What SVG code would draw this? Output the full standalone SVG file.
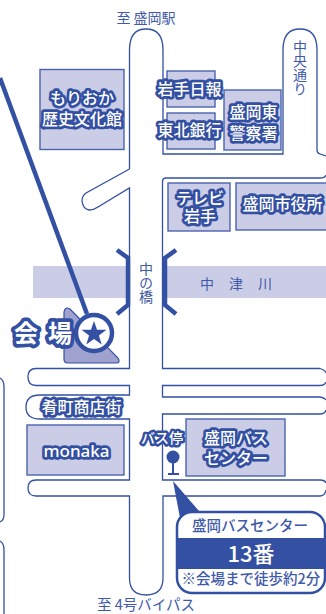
<svg xmlns="http://www.w3.org/2000/svg" width="326" height="614" viewBox="0 0 326 614">
<style>
text{font-family:"Noto Sans CJK JP","Noto Sans",sans-serif;text-anchor:middle}
.road{fill:none;stroke:#3350a3;stroke-width:1.3}
.bld{fill:#cbcde6;stroke:#4a63ad;stroke-width:1.4}
.lbl{fill:#fff;stroke:#3350a3;stroke-width:5.5;stroke-linejoin:round;paint-order:stroke;font-size:16px;font-weight:500}
.plain{fill:#3f5aa8;font-size:14px}
.vert{writing-mode:vertical-rl;text-orientation:upright}
.river{fill:#cbcde6}
</style>
<g id="river"><rect class="river" x="33" y="266" width="95" height="32"/><rect class="river" x="165" y="266" width="161" height="32"/></g>
<g id="connectors">
<path class="road" d="M129.500 169V50Q129.500 29 146 29Q163 29 163 50V154H283V50Q283 29 300 29Q317 29 317 50V150Q317 153 320 154L326 156"/>
<path class="road" d="M129.500 169L86 193Q82 196 82 201Q83 209 89 210Q94 210 98 207L129.500 188V368.500H36Q28 368.500 28 377Q28 385.500 36 385.500H129.500V395H40Q26 395 26 407Q26 419 40 419H129.500V480H36Q28 480 28 488Q28 496 36 496H129.500V578Q129.500 595 146 595Q163 595 163 578V496H320Q325 496 326 490"/>
<path class="road" d="M326 175Q325 178 320 178H166Q162.500 178 162.500 182V368.500H320Q325 370 326 373M326 382Q325 385.500 320 385.500H162.500V397H320Q325 398 326 400M326 410Q325 414 320 414H162.500V480H320Q325 480 326 483"/>
<path class="road" stroke-width="1.600" d="M0 378Q4 380 4 387V515Q4 520 0 522M0 541Q4 543 4 550V614"/>
<path d="M0 78L87 314" stroke="#3350a3" stroke-width="4.500" fill="none"/>
</g>
<g id="bridge" fill="none" stroke="#3350a3" stroke-width="4.500">
<path d="M117 250L128 258V305L117 314"/>
<path d="M176 250L165 258V305L176 314"/>
</g>
<text class="plain" x="146" y="23">至 盛岡駅</text>
<text class="plain" x="146" y="610" style="font-size:14.500px">至 4号バイパス</text>
<text class="plain vert" x="300" y="67.500">中央通り</text>
<text class="plain vert" x="146" y="283">中の橋</text>
<text class="plain" x="207 236 265" y="289">中津川</text>
<g id="n-morioka"><rect class="bld" x="40" y="69.500" width="84" height="80"/><text class="lbl" x="82" y="104">もりおか</text><text class="lbl" x="82" y="125">歴史文化館</text></g>
<g id="n-iwate"><rect class="bld" x="167" y="71" width="48" height="36"/><text class="lbl" x="189.500" y="95">岩手日報</text></g>
<g id="n-tohoku"><rect class="bld" x="167" y="113" width="48" height="36"/><text class="lbl" x="189.500" y="136">東北銀行</text></g>
<g id="n-police"><rect class="bld" x="224" y="90" width="57" height="60"/><text class="lbl" x="253.500" y="118">盛岡東</text><text class="lbl" x="253.500" y="139">警察署</text></g>
<g id="n-tv"><rect class="bld" x="168" y="183" width="62" height="48"/><text class="lbl" x="200" y="204">テレビ</text><text class="lbl" x="200" y="222">岩手</text></g>
<g id="n-city"><rect class="bld" x="236" y="183" width="95" height="47"/><text class="lbl" x="282.500" y="210">盛岡市役所</text></g>
<g id="n-venue">
<path d="M64 312Q65 306 70 309L118 358Q121 363 116 363H68Q64 363 64 359Z" fill="#9fa1cf" stroke="#3350a3" stroke-width="1.200"/>
<text x="14 48" y="342" style="font-size:24px;font-weight:700;text-anchor:start" fill="#fff" stroke="#3350a3" stroke-width="7.500" stroke-linejoin="round" paint-order="stroke">会場</text>
<circle cx="94" cy="333" r="18" fill="#fff" stroke="#3350a3" stroke-width="4.500"/>
<path d="M94 321l3 8.800h9.500l-7.600 5.600 2.800 9-7.700-5.400-7.700 5.400 2.800-9-7.600-5.600h9.500z" fill="#3350a3"/>
</g>
<g id="n-arcade"><text class="lbl" x="81.500" y="412.500">肴町商店街</text></g>
<g id="n-monaka"><rect class="bld" x="27" y="425" width="97" height="50"/><text class="lbl" x="76.500" y="456.500" style="font-family:'Noto Sans',sans-serif;font-size:17px">monaka</text></g>
<g id="n-buscenter"><rect class="bld" x="186" y="419" width="99" height="57"/><text class="lbl" x="236" y="444">盛岡バス</text><text class="lbl" x="236" y="464">センター</text></g>
<g id="n-busstop"><text class="lbl" x="162" y="443" style="font-size:14px;stroke-width:5">バス停</text><circle cx="173" cy="457" r="6.500" fill="#3350a3"/><path d="M173 462V474M168 474H179" stroke="#3350a3" stroke-width="2" fill="none"/></g>
<g id="n-callout">
<path d="M173 481L199 511L180 518Z" fill="#3350a3"/>
<rect x="177" y="512" width="148" height="81" rx="15" fill="#fff" stroke="#3350a3" stroke-width="2.500"/>
<rect x="176" y="538" width="150" height="31" fill="#3350a3"/>
<text x="250" y="531" fill="#3f5aa8" style="font-size:14.500px;font-weight:500">盛岡バスセンター</text>
<text x="251" y="562" fill="#fff" style="font-size:22px;font-weight:500">13番</text>
<text x="251" y="584" fill="#3f5aa8" style="font-size:14.500px;font-weight:500">※会場まで徒歩約2分</text>
</g>
</svg>
